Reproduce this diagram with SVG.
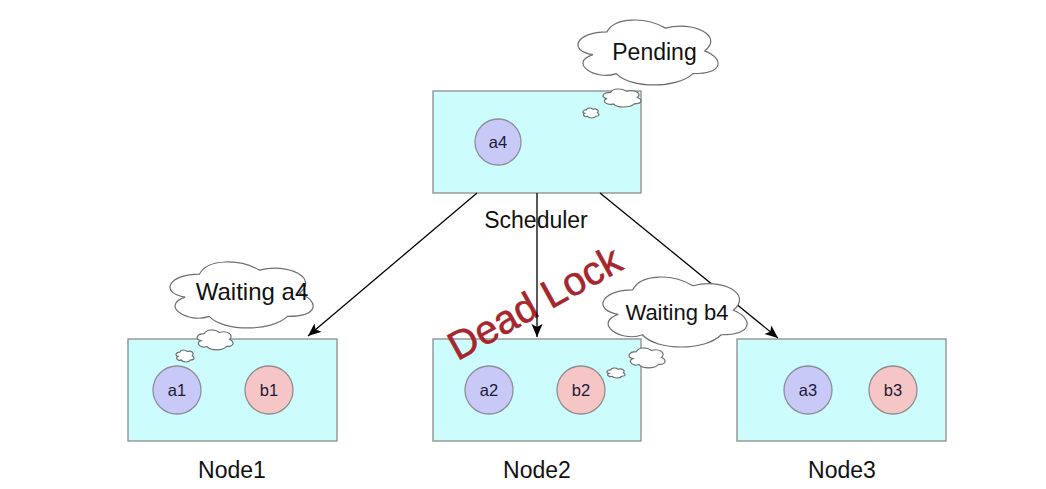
<svg xmlns="http://www.w3.org/2000/svg" xmlns:xlink="http://www.w3.org/1999/xlink" width="1046" height="489" viewBox="0 0 1046 489">
<style>
  .box { fill: #ccfcfc; stroke: #8c8c8c; stroke-width: 1.3; }
  .ca { fill: #c9c9f7; stroke: #8e8e9e; stroke-width: 1.3; }
  .cb { fill: #f6c6c6; stroke: #8e8e8e; stroke-width: 1.3; }
  .cloud { fill: #ffffff; stroke: #6e6e6e; stroke-width: 1.2; }
  .lbl { font-family: "Liberation Sans", Arial, sans-serif; font-size: 23px; fill: #111; text-anchor: middle; }
  .cl { font-family: "Liberation Sans", Arial, sans-serif; font-size: 16.5px; fill: #1a1a3a; text-anchor: middle; }
  .edge { stroke: #000; stroke-width: 1.3; fill: none; marker-end: url(#arr); }
  .dl { font-family: "Liberation Sans", Arial, sans-serif; font-size: 40px; fill: #a5262c; stroke: #a5262c; stroke-width: 0.6; text-anchor: middle; }
</style>
<defs>
  <path id="cloudp" vector-effect="non-scaling-stroke" d="M25 25 C5 25 0 50 16 55 C0 66 18 90 31 80 C40 100 70 100 80 80 C100 80 100 60 87.5 50 C100 30 80 10 62.5 20 C50 5 30 5 25 25 Z"/>
  <marker id="arr" markerUnits="userSpaceOnUse" markerWidth="14" markerHeight="12" refX="13" refY="5.5" orient="auto">
    <path d="M0,0 L13,5.5 L0,11 L3,5.5 Z" fill="#000"/>
  </marker>
</defs>
<rect width="1046" height="489" fill="#ffffff"/>

<g id="scheduler">
  <rect class="box" x="433" y="91" width="208" height="102"/>
  <circle class="ca" cx="498" cy="142" r="23"/>
  <text class="cl" x="498" y="148">a4</text>
  <text class="lbl" x="536" y="228">Scheduler</text>
</g>

<g id="pending-cloud">
  <use xlink:href="#cloudp" class="cloud" transform="translate(567.8,12.95) scale(1.564,0.758)"/>
  <use xlink:href="#cloudp" class="cloud" transform="translate(600.2,87.05) scale(0.4246,0.21)"/>
  <use xlink:href="#cloudp" class="cloud" transform="translate(581.8,106.9) scale(0.179,0.1167)"/>
  <text class="lbl" x="654.5" y="60">Pending</text>
</g>

<g id="node1">
  <rect class="box" x="128" y="339" width="209" height="102"/>
  <circle class="ca" cx="177" cy="390" r="24"/>
  <text class="cl" x="177" y="396">a1</text>
  <circle class="cb" cx="269" cy="390" r="24"/>
  <text class="cl" x="269" y="396">b1</text>
  <text class="lbl" x="232" y="478">Node1</text>
</g>

<g id="node2">
  <rect class="box" x="433" y="339" width="208" height="102"/>
  <circle class="ca" cx="489" cy="390" r="24"/>
  <text class="cl" x="489" y="396">a2</text>
  <circle class="cb" cx="581" cy="390" r="24"/>
  <text class="cl" x="581" y="396">b2</text>
  <text class="lbl" x="537" y="478">Node2</text>
</g>

<g id="node3">
  <rect class="box" x="737" y="339" width="209" height="102"/>
  <circle class="ca" cx="808" cy="390" r="24"/>
  <text class="cl" x="808" y="396">a3</text>
  <circle class="cb" cx="893" cy="390" r="24"/>
  <text class="cl" x="893" y="396">b3</text>
  <text class="lbl" x="842" y="478">Node3</text>
</g>

<g id="deadlock">
  <text class="dl" transform="translate(541,315) rotate(-29)">Dead Lock</text>
</g>

<g id="connectors">
  <line class="edge" x1="477" y1="193" x2="308" y2="336"/>
  <line class="edge" x1="537" y1="193" x2="537" y2="337"/>
  <line class="edge" x1="600" y1="193" x2="778" y2="338"/>
</g>

<g id="waiting-a4-cloud">
  <use xlink:href="#cloudp" class="cloud" transform="translate(159.6,254.8) scale(1.598,0.770)"/>
  <use xlink:href="#cloudp" class="cloud" transform="translate(194.4,327.8) scale(0.402,0.233)"/>
  <use xlink:href="#cloudp" class="cloud" transform="translate(174.7,348.7) scale(0.201,0.14)"/>
  <text class="lbl" x="252" y="300" style="font-size:24px">Waiting a4</text>
</g>

<g id="waiting-b4-cloud">
  <use xlink:href="#cloudp" class="cloud" transform="translate(592.5,269.4) scale(1.609,0.817)"/>
  <use xlink:href="#cloudp" class="cloud" transform="translate(626.4,345.8) scale(0.402,0.233)"/>
  <use xlink:href="#cloudp" class="cloud" transform="translate(605.7,366.9) scale(0.201,0.1167)"/>
  <text class="lbl" x="677" y="320" style="font-size:22px">Waiting b4</text>
</g>
</svg>
